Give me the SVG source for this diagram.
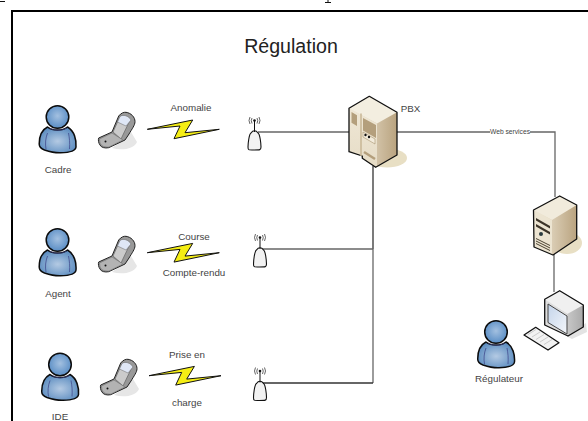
<svg xmlns="http://www.w3.org/2000/svg" width="588" height="421" viewBox="0 0 588 421">
<style>
text{font-family:"Liberation Sans",Arial,sans-serif;fill:#444;text-anchor:middle}
.l{font-size:9.800px}
.c{fill:none;stroke:#666;stroke-width:1.300}
.d{fill:none;stroke:#333;stroke-width:1.300}
.o{stroke:#111;stroke-width:1.300;stroke-linejoin:round}
</style>
<defs>
<radialGradient id="gp" cx=".5" cy=".55" r=".65"><stop offset="0" stop-color="#b4cae3"/><stop offset="1" stop-color="#4d82ba"/></radialGradient>
<radialGradient id="gh" cx=".5" cy=".45" r=".6"><stop offset="0" stop-color="#a3c0e0"/><stop offset="1" stop-color="#5288c2"/></radialGradient>
<linearGradient id="gs" x1="0" y1="0" x2="1" y2="0"><stop offset="0" stop-color="#f3ecdc"/><stop offset="1" stop-color="#b9a37f"/></linearGradient>
<linearGradient id="gf" x1="0" y1="0" x2="0" y2="1"><stop offset="0" stop-color="#efe7d5"/><stop offset="1" stop-color="#e6dcc6"/></linearGradient>
<linearGradient id="gm" x1="0" y1="0" x2="1" y2="0"><stop offset="0" stop-color="#f2f2f2"/><stop offset="1" stop-color="#a9a9a9"/></linearGradient>
<linearGradient id="gw" x1="0" y1="0" x2="1" y2="1"><stop offset="0" stop-color="#c4d4ea"/><stop offset="1" stop-color="#f4f7fb"/></linearGradient>
<g id="person">
<path d="M9 22C3 25 .7 31 .7 39C.7 42 2 43.500 6 45C12 47 17 48 22 47.800C29 47.600 37 47 37.500 42C38 35 36 26 29 22C24 26 14 26 9 22Z" fill="url(#gp)" stroke="#0c0c0c" stroke-width="1.500" stroke-linejoin="round"/>
<path d="M9 28C7 33 6.500 39 7.500 44M30 28C31 33 31.500 38 31 44M11 23C16 26 23 26 28 23" fill="none" stroke="#3a3f85" stroke-width=".7"/>
<circle cx="19" cy="12" r="11.300" fill="url(#gh)" stroke="#0c0c0c" stroke-width="1.500"/>
</g>
<g id="phone">
<path d="M14 36C24 39 36 37 39 30L33 20L22 30Z" fill="#e6e6e6"/>
<path d="M.7 26L14 20L20.700 4C23 1 26 0 28 .3C33 1 37 5 37 9.700C37 13 34 17 31 22L27 28L10.700 35.700C7 36.500 3 35.500 2 33C.5 31 0 28 .7 26Z" fill="#999" stroke="#222" stroke-width="1"/>
<path d="M15 20L22 4.500C25 3 31 5 32 8L23 27Z" fill="#cbcbcb" stroke="#555" stroke-width=".6"/>
<path d="M22 4.500C25 2 31 4 33 8L28 14L19.500 10Z" fill="#dfe7f6" stroke="#666" stroke-width=".5"/>
<path d="M1.500 27L14 21L25 28L11 35C7 35.500 3 34 2 31Z" fill="#b3b3b3" stroke="#666" stroke-width=".5"/>
<circle cx="7.500" cy="29.500" r="1" fill="#111"/>
</g>
<path id="bolt" d="M0 0L45.400 -9.300L37.700 3.400L72 0L26.700 9.400L32.700 -3.300Z" fill="#f5ee14" stroke="#111" stroke-width="1" stroke-linejoin="miter"/>
<g id="antenna">
<path d="M10.500 16C12.500 17 13.500 27 13.500 30C13.500 33 12.500 33 6.500 33C.5 33 .5 33 .5 30C.5 27 1.500 17 3.500 16C5.500 13 8.500 13 10.500 16Z" fill="#f2f2f2" stroke="#111" stroke-width="1.100"/>
<path d="M7 4V15" stroke="#111" stroke-width="1"/>
<circle cx="7" cy="3.500" r="1.300" fill="#111"/>
<path d="M4.500 1Q3 3.500 4.500 6.500M9.500 1Q11 3.500 9.500 6.500M2.500 0Q.5 3.500 2.500 7M11.500 0Q13.500 3.500 11.500 7" fill="none" stroke="#222" stroke-width=".7"/>
</g>
</defs>

<rect width="588" height="421" fill="#fff"/>
<path d="M12 421V11H588" fill="none" stroke="#000" stroke-width="2"/>
<path d="M0 1.500H5M325 2.500H331M328 0V2" stroke="#111" stroke-width="1" fill="none"/>

<text id="title" x="291" y="53" font-size="19.600" style="fill:#222">Régulation</text>

<g id="connectors">
<path class="c" d="M258 132H350"/>
<path class="c" d="M396 132H490M530 132H555V197"/>
<path class="d" d="M373 166V249"/>
<path class="c" d="M373 249V383"/>
<path class="c" d="M262 249H373"/>
<path class="d" d="M262 383H373"/>
<path class="c" d="M554 254V292"/>
</g>

<g id="cadre"><use href="#person" x="38.500" y="105"/><text class="l" x="58" y="173">Cadre</text></g>
<g id="agent"><use href="#person" x="38.500" y="228"/><text class="l" x="58" y="297">Agent</text></g>
<g id="ide"><use href="#person" x="41" y="352.500"/><text class="l" x="60" y="420">IDE</text></g>
<g id="regulateur"><use href="#person" x="477" y="320"/><text class="l" x="499" y="382">Régulateur</text></g>

<g id="phone1"><use href="#phone" x="98" y="112"/></g>
<g id="phone2"><use href="#phone" x="98" y="236"/></g>
<g id="phone3"><use href="#phone" x="100" y="359"/></g>

<g id="link1"><use href="#bolt" x="147.300" y="129.300"/><text class="l" x="191" y="111">Anomalie</text></g>
<g id="link2"><use href="#bolt" x="147.300" y="252.700"/><text class="l" x="194" y="240">Course</text><text class="l" x="194" y="276">Compte-rendu</text></g>
<g id="link3"><use href="#bolt" x="149" y="375.700"/><text class="l" x="187" y="358">Prise en</text><text class="l" x="187" y="406">charge</text></g>

<g id="antenna1"><use href="#antenna" x="247.500" y="117"/></g>
<g id="antenna2"><use href="#antenna" x="253" y="234"/></g>
<g id="antenna3"><use href="#antenna" x="253" y="367.500"/></g>

<g id="pbx">
<ellipse cx="387" cy="158" rx="20" ry="9.500" fill="#e8dfc4"/>
<path d="M349 108.300L369.300 96.300L397 112.300V155L375.700 167.300L362.300 158.300V156L349 151.700Z" fill="url(#gs)"/>
<path d="M349 108.300L369.300 96.300L397 112.300L377 123.500Z" fill="#f3eee0"/>
<path d="M349 108.300L377 123.500V167L362.300 158.300V156L349 151.700Z" fill="url(#gf)"/>
<path d="M349 108.300L369.300 96.300L397 112.300V155L375.700 167.300L362.300 158.300V156L349 151.700Z" fill="none" class="o"/>
<path d="M351.500 112L357 115.300V126L351.500 122.800ZM363 118L376 125V138L363 130.500Z" fill="#b49f7c"/>
<path d="M361 113.500V156" stroke="#c7b694" stroke-width="1.500"/>
<path d="M363 132L375 139V144L363 137Z" fill="#f3ecdc" stroke="#a8946f" stroke-width=".6"/>
<circle cx="365.500" cy="135" r="1.200" fill="#111"/><circle cx="369" cy="137" r="1.200" fill="#111"/>
<path d="M364 152L375 159" stroke="#b49f7c" stroke-width="2.500"/>
<text class="l" x="410.500" y="112">PBX</text>
</g>

<g id="webservices"><text x="510" y="134" font-size="6.700">Web services</text></g>

<g id="server">
<ellipse cx="567" cy="243" rx="15" ry="11" fill="#e8dfc4"/>
<path d="M533.500 210L559.700 196L576.700 205V239L553 255L534 247Z" fill="url(#gs)"/>
<path d="M533.500 210L559.700 196L576.700 205L552 220Z" fill="#f1ebdc"/>
<path d="M533.500 210L552 220V255L534 247Z" fill="#ece4d1"/>
<path d="M533.500 210L559.700 196L576.700 205V239L553 255L534 247Z" fill="none" class="o"/>
<path d="M536 218L550 226V228.500L536 220.500ZM536 224L550 232V234.500L536 226.500Z" fill="#3c3428"/>
<circle cx="541" cy="234" r="2" fill="#2b3b3f"/>
<path d="M536 241L550 248M536 243.500L550 250.500M536 238.500L550 245.500" stroke="#4b4332" stroke-width="1"/>
</g>

<g id="monitor">
<path d="M566 336L586 323L587 332L572 339Z" fill="#e3e3e3"/>
<path d="M544.700 299.300L559.700 290.700L583.300 305V327L568 336L544.700 325Z" fill="url(#gm)"/>
<path d="M544.700 299.300L559.700 290.700L583.300 305L567.300 314Z" fill="#f0f0f0"/>
<path d="M544.700 299.300L567.300 314V336L544.700 325Z" fill="#dedede"/>
<path d="M544.700 299.300L559.700 290.700L583.300 305V327L568 336L544.700 325Z" fill="none" class="o"/>
<path d="M548 304L567 316V334L548 322.500Z" fill="url(#gw)" stroke="#444" stroke-width="1"/>
</g>

<g id="keyboard">
<path d="M524 335L535.700 327.300L559 342.700L548 350Z" fill="#f2f2f2" class="o"/>
<path d="M528 334.500L536 329.500M532 337L540 332M536 339.500L544 334.500M540 342L548 337M544 344.500L552 339.500" stroke="#ccc" stroke-width="1"/>
</g>
</svg>
